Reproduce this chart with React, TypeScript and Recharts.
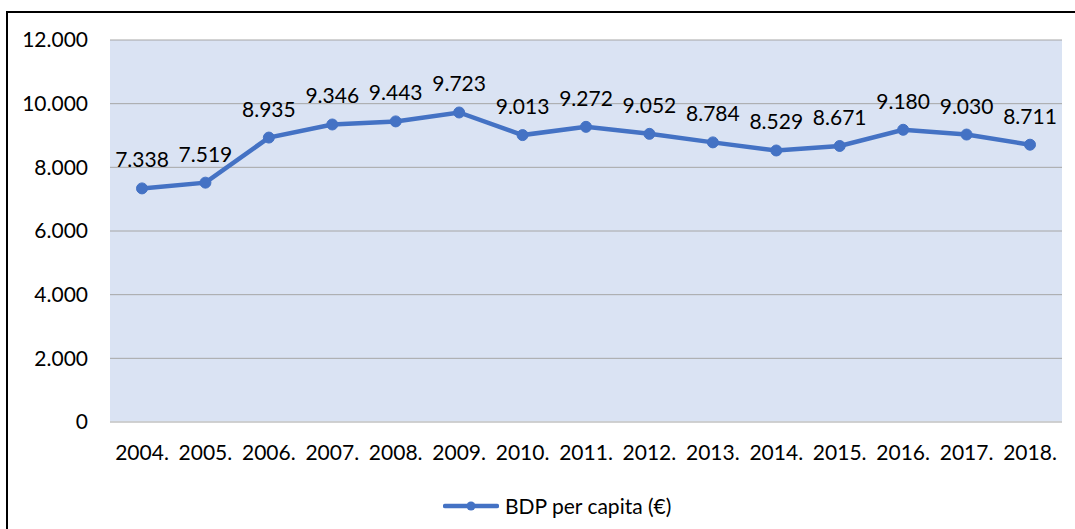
import { LineChart, Line, XAxis, YAxis, CartesianGrid, Legend, LabelList } from 'recharts';

const years = ['2004.', '2005.', '2006.', '2007.', '2008.', '2009.', '2010.', '2011.', '2012.', '2013.', '2014.', '2015.', '2016.', '2017.', '2018.'];
const gdpPerCapita = [7338, 7519, 8935, 9346, 9443, 9723, 9013, 9272, 9052, 8784, 8529, 8671, 9180, 9030, 8711];
const yTicks = [0, 2000, 4000, 6000, 8000, 10000, 12000];
const seriesName = 'BDP per capita (€)';

const data = years.map((year, i) => ({ year, value: gdpPerCapita[i] }));

const BLUE = '#4472C4';
const FONT = 'Lato, "Open Sans", sans-serif';
const FS = 21;

// thousands separator with a dot, e.g. 12.000
const fmt = (v: number) => (v === 0 ? '0' : v.toString().replace(/\B(?=(\d{3})+(?!\d))/g, '.'));

const LegendContent = () => (
  <div style={{ display: 'flex', alignItems: 'center', paddingLeft: 443, fontFamily: FONT, fontSize: FS, color: '#000' }}>
    <svg width={56} height={12} style={{ marginRight: 6 }}>
      <line x1={2} y1={6} x2={54} y2={6} stroke={BLUE} strokeWidth={4.5} strokeLinecap="round" />
      <circle cx={28} cy={6} r={4.5} fill={BLUE} />
    </svg>
    <span>{seriesName}</span>
  </div>
);

export default function App() {
  return (
    <div style={{ position: 'absolute', left: 0, top: 0, width: 1075, height: 529, overflow: 'hidden', background: '#fff' }}>
      <div
        style={{
          position: 'absolute',
          left: 6,
          top: 11,
          width: 1200,
          height: 700,
          borderLeft: '2px solid #000',
          borderTop: '2px solid #000',
        }}
      />
      <div style={{ position: 'absolute', left: 0, top: 0 }}>
        <LineChart width={1075} height={529} data={data} margin={{ top: 40, right: 13, bottom: 6, left: 0 }}>
          <CartesianGrid vertical={false} stroke="#A6A6A6" strokeWidth={1} fill="#DAE3F3" fillOpacity={1} />
          <XAxis
            dataKey="year"
            height={71}
            padding={{ left: 32, right: 32 }}
            tickLine={false}
            axisLine={{ stroke: '#D0D0D0', strokeWidth: 1.5 }}
            tickMargin={17}
            interval={0}
            tick={{ fontFamily: FONT, fontSize: FS, fill: '#000' }}
          />
          <YAxis
            width={110}
            domain={[0, 12000]}
            ticks={yTicks}
            tickFormatter={fmt}
            tickLine={false}
            axisLine={false}
            tickMargin={16}
            tick={{ fontFamily: FONT, fontSize: FS, fill: '#000' }}
          />
          <Legend verticalAlign="bottom" height={30} wrapperStyle={{ left: 0, width: 1075 }} content={<LegendContent />} />
          <Line
            type="linear"
            dataKey="value"
            name={seriesName}
            stroke={BLUE}
            strokeWidth={4.5}
            dot={{ r: 5.5, fill: BLUE, stroke: BLUE, strokeWidth: 1 }}
            activeDot={false}
            isAnimationActive={false}
          >
            <LabelList
              dataKey="value"
              position="top"
              offset={21}
              formatter={(v: any) => fmt(Number(v))}
              style={{ fontFamily: FONT, fontSize: FS, fill: '#000' }}
            />
          </Line>
        </LineChart>
      </div>
    </div>
  );
}
